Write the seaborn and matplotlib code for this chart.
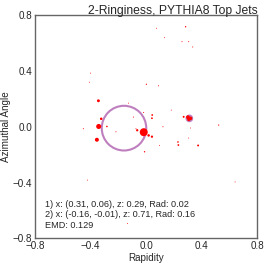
import numpy as np
import pandas as pd
import seaborn as sns
import matplotlib.pyplot as plt
from matplotlib.patches import Circle

# particle rapidity, azimuth and pT fraction
rap = [-0.018, 0.300, 0.318, 0.306, -0.342, -0.355, -0.344, -0.324, 0.017, 0.041,
       -0.065, 0.043, 0.041, 0.269, 0.228, 0.231, 0.373, -0.283, -0.012,
       0.074, 0.283, 0.132, 0.257, 0.305, 0.334, -0.401, -0.409, 0.001, 0.088,
       0.180, -0.128, -0.019, -0.092, -0.452, -0.218, -0.074, 0.120, 0.521,
       0.319, 0.305, 0.096, -0.423, 0.639, -0.135]
phi = [-0.039, 0.068, 0.060, 0.052, 0.002, -0.093, 0.186, 0.057, -0.062, -0.071,
       -0.025, 0.084, 0.061, 0.071, -0.109, -0.131, -0.134, 0.002, -0.179,
       0.705, 0.716, 0.638, 0.609, 0.609, 0.571, 0.384, 0.319, 0.304, 0.293,
       0.119, 0.169, 0.102, 0.069, -0.014, -0.036, -0.014, 0.000, 0.012,
       -0.009, -0.081, -0.134, -0.382, -0.395, -0.693]
pt = [0.30, 0.07, 0.06, 0.05, 0.12, 0.075, 0.04, 0.03, 0.03, 0.025,
      0.025, 0.015, 0.015, 0.018, 0.012, 0.015, 0.018, 0.012, 0.009,
      0.004, 0.009, 0.004, 0.005, 0.005, 0.005, 0.004, 0.004, 0.007, 0.005,
      0.004, 0.004, 0.005, 0.005, 0.005, 0.005, 0.004, 0.005, 0.007,
      0.004, 0.004, 0.004, 0.004, 0.004, 0.004]

# fitted rings
ring_x = [0.31, -0.16]
ring_y = [0.06, -0.01]
ring_z = [0.29, 0.71]
ring_rad = [0.02, 0.16]
emd = 0.129

df = pd.DataFrame({'rap': rap, 'phi': phi, 'pt': pt})

sns.set_style('white')
plt.rcParams['font.family'] = ['Liberation Sans', 'DejaVu Sans']

fig = plt.figure(figsize=(2.66, 2.66), dpi=100)
ax = fig.add_axes([0.1316, 0.1034, 0.8364, 0.8402])

# rings go under the particles
for cx, cy, r in zip(ring_x, ring_y, ring_rad):
    ax.add_patch(Circle((cx, cy), r, fill=False, edgecolor='purple', alpha=0.5, lw=1.5, zorder=1))

sns.scatterplot(data=df, x='rap', y='phi', size='pt', sizes=(0, 33), size_norm=(0, 0.3),
                color='red', linewidth=0, legend=False, ax=ax, zorder=3)

lines = []
for i in range(len(ring_x)):
    lines.append(f"{i+1}) x: ({ring_x[i]:.2f}, {ring_y[i]:.2f}), z: {ring_z[i]:.2f}, Rad: {ring_rad[i]:.2f}")
lines.append(f"EMD: {emd:.3f}")
ax.text(0.045, 0.04, "\n".join(lines), transform=ax.transAxes, fontsize=6.6,
        va='bottom', ha='left', color='0.15')

ax.set_xlim(-0.8, 0.8)
ax.set_ylim(-0.8, 0.8)
ax.set_xticks([-0.8, -0.4, 0.0, 0.4, 0.8])
ax.set_yticks([-0.8, -0.4, 0.0, 0.4, 0.8])
ax.tick_params(labelsize=7.1, pad=2, length=0)
for sp in ax.spines.values():
    sp.set_color('0.4')
    sp.set_linewidth(1.0)
ax.set_xlabel('Rapidity', fontsize=7.1, labelpad=1.5)
ax.set_ylabel('Azimuthal Angle', fontsize=7.1, labelpad=1.5)
ax.set_title('2-Ringiness, PYTHIA8 Top Jets', loc='right', fontsize=8.7, pad=1)

fig.savefig('out.png', dpi=100)
